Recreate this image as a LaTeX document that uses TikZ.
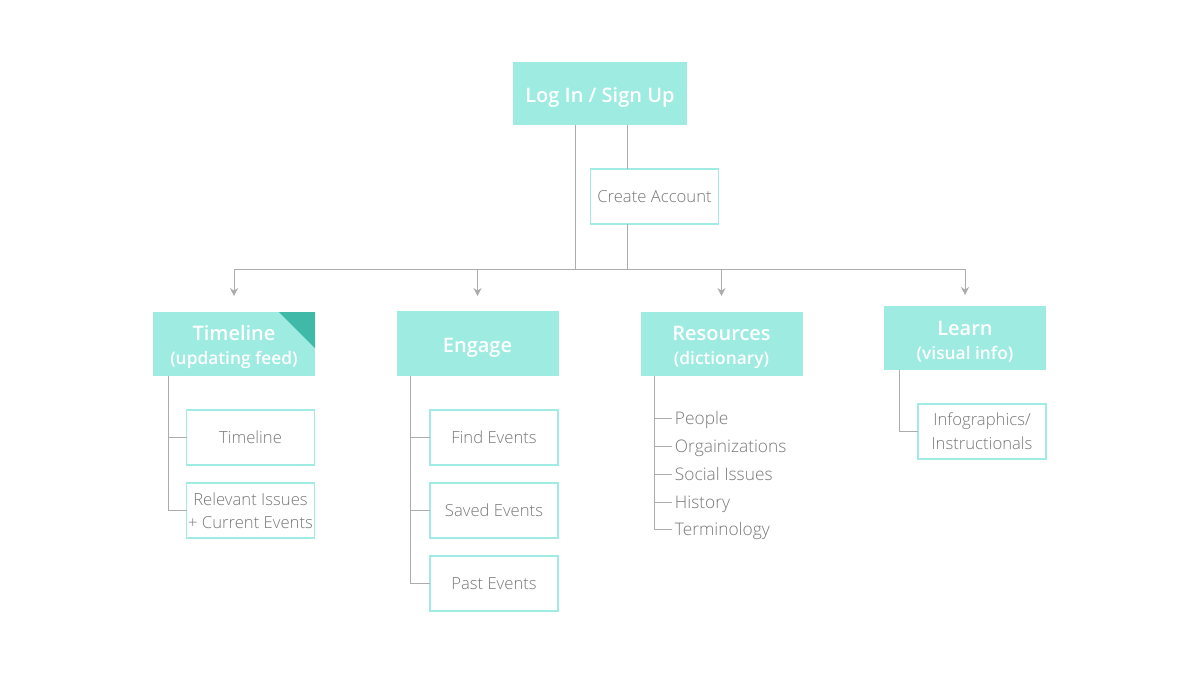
\documentclass[tikz,border=0pt]{standalone}
\usepackage{fontspec}
\setmainfont{Open Sans}[BoldFont={Open Sans Semibold}]
\newfontfamily\lightfont{Open Sans Light}
\usepackage{tikz}
\usetikzlibrary{arrows.meta}

\definecolor{tealfill}{RGB}{158,235,226}
\definecolor{tealdark}{RGB}{64,185,169}
\definecolor{tealline}{RGB}{160,236,228}
\definecolor{wiregray}{RGB}{172,172,172}
\definecolor{labelgray}{RGB}{120,120,120}

\newcommand{\subline}[1]{{\fontsize{13}{15}\selectfont #1}}

\begin{document}
\begin{tikzpicture}[x=0.75pt,y=0.75pt,yscale=-1,
  head/.style={fill=tealfill,draw=none,text=white,inner sep=0pt,outer sep=0pt,minimum width=121.5pt,minimum height=48pt,align=center,font=\fontsize{15}{19}\bfseries\selectfont},
  sub/.style={fill=white,draw=tealline,line width=1.4pt,text=labelgray,inner sep=0pt,outer sep=0pt,minimum width=96pt,minimum height=41pt,align=center,font=\lightfont\fontsize{12.5}{17.5}\selectfont},
  item/.style={anchor=west,text=labelgray,inner xsep=2pt,inner ysep=0pt,text height=11pt,text depth=1pt,font=\lightfont\fontsize{13}{15}\selectfont},
  wire/.style={draw=wiregray,line width=0.75pt},
  drop/.style={wire,-{Stealth[length=6pt,width=6pt]}}]
\useasboundingbox (0,0) rectangle (1200,675);

% Top
\node[head,minimum width=130.5pt,minimum height=47pt,text height=13.5pt,text depth=0pt] (login) at (600,93.5) {Log In / Sign Up};
\node[sub,text height=10.5pt,text depth=1pt] (create) at (654.5,196.5) {Create Account};

% Branch points on the bus
\coordinate (j1) at (575,269);
\coordinate (j2) at (627,269);

% Sections
\node[head] (timeline) at (234,344) {\rule{0pt}{16pt}Timeline\\[-1pt]\subline{(updating feed)}};
\fill[tealdark] (timeline.north east) -- ++(-36,0) -- ++(36,36) -- cycle;
\node[head,minimum height=48.75pt,text height=13.5pt,text depth=0pt] (engage) at (477.5,343.5) {Engage};
\node[head] (resources) at (721.5,344) {\rule{0pt}{16pt}Resources\\[-1pt]\subline{(dictionary)}};
\node[head] (learn) at (965,338) {\rule{0pt}{16pt}Learn\\[-1pt]\subline{(visual info)}};

% Sub boxes
\node[sub] (tlfeed) at (250.5,437.5) {Timeline};
\node[sub] (tlissues) at (250.5,510.5) {Relevant Issues\\+ Current Events};
\node[sub] (find) at (494,437.5) {Find Events};
\node[sub] (saved) at (494,510.5) {Saved Events};
\node[sub] (past) at (494,583.5) {Past Events};
\node[sub,font=\lightfont\fontsize{12.5}{18}\selectfont] (infog) at (982,431.5) {Infographics/\\Instructionals};

% Resources list
\node[item] (people) at (672,418) {People};
\node[item] (orgs) at (672,446) {Orgainizations};
\node[item] (social) at (672,474) {Social Issues};
\node[item] (history) at (672,502) {History};
\node[item] (terms) at (672,529) {Terminology};

% Wires from the top
\draw[wire] (login.south -| j1) -- (j1);
\draw[wire] (login.south -| j2) -- (create.north -| j2);
\draw[wire] (create.south -| j2) -- (j2);
\draw[wire] (timeline.north |- j1) -- (learn.north |- j1);
\draw[drop] (timeline.north |- j1) -- ++(0,27);
\draw[drop] (engage.north |- j1) -- ++(0,27);
\draw[drop] (resources.north |- j1) -- ++(0,27);
\draw[drop] (learn.north |- j1) -- ++(0,26);

% Wires to the sub boxes
\draw[wire] (timeline.south west) ++(15,0) |- (tlfeed.west);
\draw[wire] (timeline.south west) ++(15,0) |- (tlissues.west);
\draw[wire] (engage.south west) ++(14,0) |- (find.west);
\draw[wire] (engage.south west) ++(14,0) |- (saved.west);
\draw[wire] (engage.south west) ++(14,0) |- (past.west);
\foreach \n in {people,orgs,social,history,terms}
  \draw[wire] (resources.south west) ++(14,0) |- (\n.west);
\draw[wire] (learn.south west) ++(15,0) |- (infog.west);

\end{tikzpicture}
\end{document}
